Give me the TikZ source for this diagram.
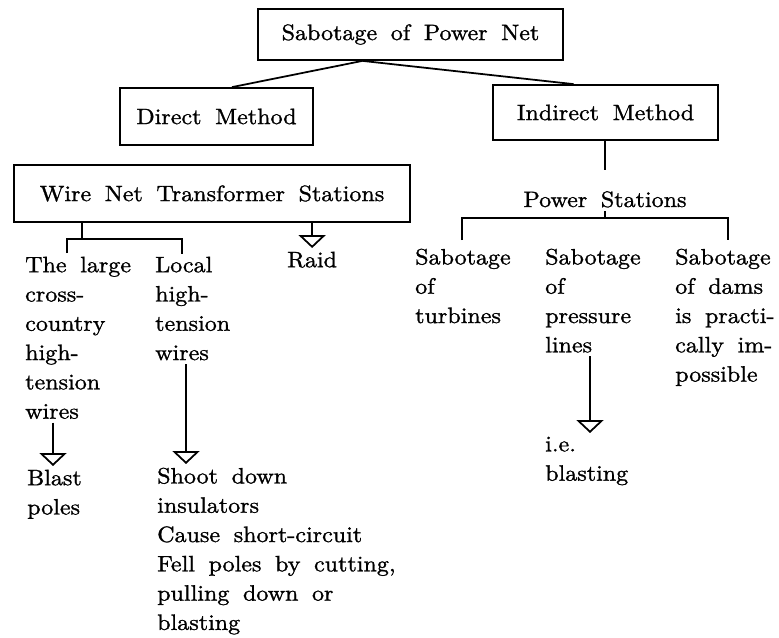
\documentclass[tikz,border=0pt]{standalone}
\usepackage{fontspec}
\setmainfont{lmroman10-regular.otf}[FakeStretch=1.08, FakeBold=1.2, WordSpace=1.7]
\usetikzlibrary{arrows.meta, positioning, calc}
\newcommand{\netfont}{\fontsize{19}{25}\selectfont}

\begin{document}
\begin{tikzpicture}[
    x=0.03cm, y=-0.03cm,
    % Node styles
    level/.style={
        rectangle,
        draw=black,
        line width=1.5pt,
        inner sep=0pt,
        font=\netfont
    },
    item/.style={
        anchor=north west,
        align=left,
        inner xsep=0pt,
        inner ysep=3pt,
        font=\netfont
    },
    tree/.style={
        line width=1.5pt,
        black
    },
    hollow/.style={
        -{Triangle[open, length=11pt, width=23pt, line width=1.5pt]},
        line width=1.5pt,
        black
    }
]
\useasboundingbox (0,0) rectangle (779,637);

% --- Boxes ---
\node[level, minimum width=9.15cm, minimum height=1.53cm] (power) at (410.5,34.5) {Sabotage of Power Net};
\node[level, minimum width=5.79cm, minimum height=1.71cm] (direct) at (216.5,116.5) {Direct Method};
\node[level, minimum width=6.75cm, minimum height=1.65cm] (indirect) at (605.5,112.5) {Indirect Method};
\node[level, minimum width=11.88cm, minimum height=1.71cm] (wire) at (212,193.5) {Wire Net Transformer Stations};
\node[item, anchor=base] (ps) at (605,207) {Power Stations};

% --- Direct method items ---
\node[item] (large) at (25,253) {The large\\cross-\\country\\high-\\tension\\wires};
\node[item] (local) at (155,253) {Local\\high-\\tension\\wires};
\node[item] (raid) at (287,248) {Raid};
\node[item] (blast) at (27,466) {Blast\\poles};
\node[item] (shoot) at (157,464) {Shoot down\\insulators\\Cause short-circuit\\Fell poles by cutting,\\pulling down or\\blasting};

% --- Indirect method items ---
\node[item] (turb) at (415,245) {Sabotage\\of\\turbines};
\node[item] (press) at (545,245) {Sabotage\\of\\pressure\\lines};
\node[item] (dams) at (675,245) {Sabotage\\of dams\\is practi-\\cally im-\\possible};
\node[item] (ie) at (545,433) {i.e.\\blasting};

% --- Top connectors ---
\draw[tree] ($(power.south)+(-48,0)$) -- ($(direct.north)+(15.5,0)$);
\draw[tree] ($(power.south)+(-48,0)$) -- ($(indirect.north)+(-32,0)$);

% --- Wire net fork ---
\coordinate (wfork) at (82,239);
\coordinate (tlarge) at (67,253);
\coordinate (tlocal) at (182,254);
\draw[tree] (wire.south -| wfork) -- (wfork);
\draw[tree] (tlarge) -- (tlarge |- wfork) -- (tlocal |- wfork) -- (tlocal);
\draw[hollow] (wire.south -| raid.north) -- (raid.north);

% --- Power stations fork ---
\coordinate (pfork) at (605,218);
\coordinate (tturb) at (462,240);
\coordinate (tdams) at (728,240);
\draw[tree] (ps.north |- indirect.south) -- ([yshift=15pt]ps.north);
\draw[tree] (ps.south) -- (pfork);
\draw[tree] (tturb) -- (tturb |- pfork) -- (tdams |- pfork) -- (tdams);

% --- Hollow arrows ---
\draw[hollow] ($(large.south west)+(28,0)$) -- ($(blast.north west)+(26,0)$);
\draw[hollow] ($(local.south west)+(31,0)$) -- ($(shoot.north west)+(29,0)$);
\draw[hollow] ($(press.south west)+(45,0)$) -- ($(ie.north west)+(45,0)$);

\end{tikzpicture}
\end{document}
